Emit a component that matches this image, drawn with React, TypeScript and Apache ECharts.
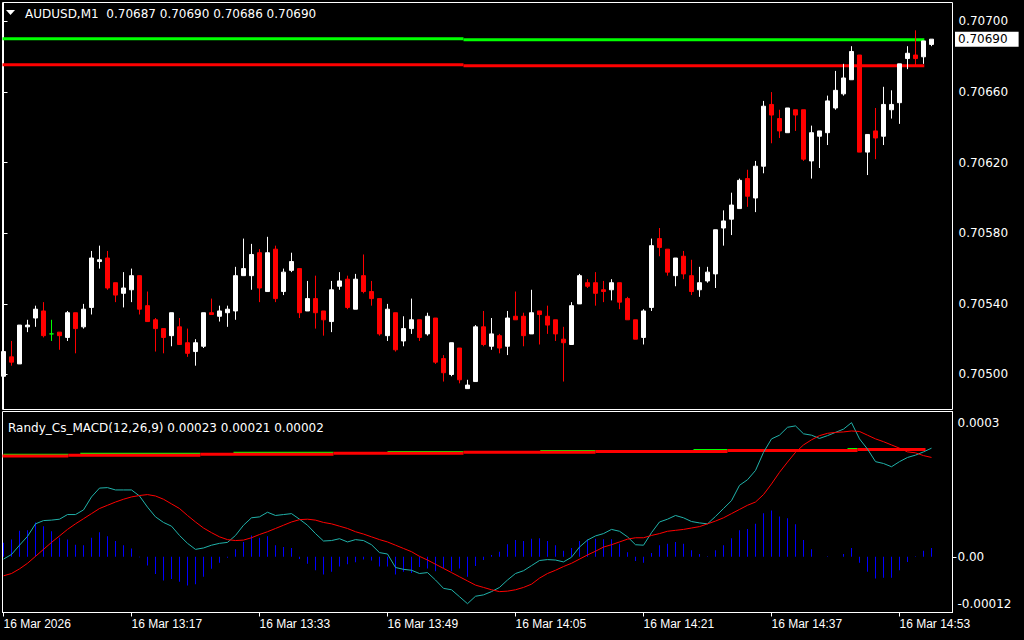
import { useEffect, useRef } from 'react';
import * as echarts from 'echarts';

const symbolName = 'AUDUSD';
const timeframe = 'M1';
const indicatorName = 'Randy_Cs_MACD(12,26,9)';

// One-minute candles, 16 Mar 2026 13:01 … 14:57
const opens = [
  0.70499,0.70510,0.70506,0.70527,0.70532,0.70536,0.70523,0.70524,0.70521,0.70535,
  0.70527,0.70538,0.70564,0.70566,0.70552,0.70546,0.70548,0.70556,0.70539,0.70531,
  0.70526,0.70522,0.70527,0.70518,0.70513,0.70516,0.70535,0.70533,0.70535,0.70536,
  0.70556,0.70556,0.70569,0.70547,0.70571,0.70547,0.70559,0.70560,0.70536,0.70543,
  0.70536,0.70530,0.70550,0.70554,0.70537,0.70556,0.70547,0.70543,0.70522,0.70535,
  0.70519,0.70526,0.70531,0.70523,0.70532,0.70509,0.70500,0.70515,0.70492,0.70496,
  0.70527,0.70516,0.70522,0.70516,0.70533,0.70533,0.70523,0.70536,0.70533,0.70531,
  0.70520,0.70517,0.70540,0.70552,0.70552,0.70548,0.70548,0.70552,0.70543,0.70531,
  0.70521,0.70538,0.70577,0.70571,0.70556,0.70567,0.70556,0.70548,0.70553,0.70557,
  0.70583,0.70588,0.70594,0.70611,0.70600,0.70618,0.70653,0.70645,0.70637,0.70650,
  0.70650,0.70621,0.70635,0.70637,0.70651,0.70659,0.70667,0.70681,0.70626,0.70638,
  0.70635,0.70650,0.70654,0.70679,0.70681,0.70680,0.70687,
];
const closes = [
  0.70513,0.70507,0.70528,0.70528,0.70537,0.70522,0.70523,0.70522,0.70535,0.70526,
  0.70537,0.70566,0.70565,0.70549,0.70545,0.70549,0.70556,0.70537,0.70530,0.70526,
  0.70521,0.70535,0.70517,0.70512,0.70518,0.70535,0.70534,0.70536,0.70537,0.70556,
  0.70560,0.70568,0.70549,0.70569,0.70543,0.70558,0.70564,0.70535,0.70543,0.70535,
  0.70531,0.70548,0.70553,0.70538,0.70554,0.70547,0.70543,0.70523,0.70537,0.70514,
  0.70526,0.70531,0.70521,0.70533,0.70507,0.70501,0.70518,0.70497,0.70494,0.70527,
  0.70517,0.70523,0.70515,0.70532,0.70531,0.70522,0.70535,0.70534,0.70528,0.70523,
  0.70518,0.70539,0.70556,0.70550,0.70546,0.70547,0.70552,0.70541,0.70531,0.70520,
  0.70536,0.70573,0.70572,0.70558,0.70566,0.70557,0.70547,0.70552,0.70558,0.70582,
  0.70587,0.70596,0.70610,0.70601,0.70618,0.70652,0.70647,0.70638,0.70651,0.70647,
  0.70622,0.70637,0.70638,0.70655,0.70661,0.70668,0.70683,0.70626,0.70636,0.70634,
  0.70653,0.70653,0.70676,0.70682,0.70679,0.70689,0.70690,
];
const highs = [
  0.70513,0.70519,0.70528,0.70531,0.70539,0.70541,0.70531,0.70524,0.70536,0.70535,
  0.70540,0.70570,0.70573,0.70570,0.70552,0.70558,0.70560,0.70556,0.70547,0.70532,
  0.70526,0.70535,0.70532,0.70526,0.70520,0.70535,0.70543,0.70539,0.70539,0.70561,
  0.70577,0.70574,0.70571,0.70578,0.70573,0.70560,0.70569,0.70560,0.70553,0.70556,
  0.70536,0.70553,0.70558,0.70556,0.70557,0.70568,0.70553,0.70543,0.70540,0.70535,
  0.70533,0.70543,0.70531,0.70535,0.70532,0.70511,0.70518,0.70515,0.70497,0.70528,
  0.70536,0.70532,0.70523,0.70536,0.70547,0.70535,0.70548,0.70536,0.70539,0.70531,
  0.70527,0.70541,0.70557,0.70554,0.70558,0.70553,0.70554,0.70552,0.70544,0.70531,
  0.70537,0.70577,0.70583,0.70571,0.70566,0.70570,0.70565,0.70561,0.70561,0.70582,
  0.70593,0.70603,0.70611,0.70616,0.70621,0.70655,0.70660,0.70650,0.70651,0.70650,
  0.70650,0.70641,0.70638,0.70658,0.70672,0.70676,0.70686,0.70681,0.70636,0.70651,
  0.70663,0.70661,0.70676,0.70686,0.70695,0.70689,0.70690,
];
const lows = [
  0.70494,0.70505,0.70506,0.70524,0.70527,0.70521,0.70519,0.70514,0.70519,0.70512,
  0.70526,0.70534,0.70560,0.70548,0.70541,0.70538,0.70541,0.70534,0.70530,0.70513,
  0.70512,0.70516,0.70517,0.70510,0.70505,0.70515,0.70534,0.70530,0.70527,0.70531,
  0.70556,0.70548,0.70541,0.70547,0.70541,0.70545,0.70558,0.70532,0.70536,0.70526,
  0.70522,0.70524,0.70548,0.70537,0.70537,0.70546,0.70539,0.70522,0.70519,0.70513,
  0.70516,0.70523,0.70519,0.70522,0.70506,0.70496,0.70499,0.70495,0.70492,0.70496,
  0.70516,0.70514,0.70512,0.70511,0.70531,0.70516,0.70523,0.70517,0.70523,0.70519,
  0.70496,0.70517,0.70540,0.70549,0.70539,0.70541,0.70542,0.70537,0.70531,0.70520,
  0.70517,0.70536,0.70567,0.70556,0.70550,0.70554,0.70545,0.70544,0.70552,0.70549,
  0.70573,0.70579,0.70594,0.70595,0.70592,0.70614,0.70631,0.70634,0.70637,0.70638,
  0.70621,0.70611,0.70617,0.70630,0.70650,0.70658,0.70667,0.70626,0.70613,0.70622,
  0.70630,0.70645,0.70642,0.70673,0.70675,0.70676,0.70686,
];

// MACD sub-window values
const macdMain = [
  -0.5e-5,0.5e-5,2.5e-5,4.4e-5,7.1e-5,7.8e-5,7.9e-5,8.1e-5,9.1e-5,9.1e-5,
  10.1e-5,12.9e-5,14.8e-5,14.9e-5,14.4e-5,14.4e-5,14.4e-5,13.1e-5,10.7e-5,8.6e-5,
  7.4e-5,6.6e-5,4.6e-5,2.9e-5,1.6e-5,1.9e-5,2.5e-5,2.9e-5,3.1e-5,4.6e-5,
  6.8e-5,8.4e-5,8.6e-5,9.6e-5,8.9e-5,9.1e-5,9.3e-5,8.1e-5,6.8e-5,5.0e-5,
  3.4e-5,3.5e-5,3.9e-5,3.2e-5,3.7e-5,3.5e-5,2.6e-5,0.9e-5,0.6e-5,-2.3e-5,
  -2.7e-5,-2.9e-5,-3.6e-5,-3.4e-5,-5.0e-5,-6.8e-5,-7.1e-5,-8.6e-5,-10.1e-5,-8.5e-5,
  -8.2e-5,-7.5e-5,-6.6e-5,-5.0e-5,-3.6e-5,-3.0e-5,-1.9e-5,-0.8e-5,-0.6e-5,-0.7e-5,
  -1.1e-5,-0.1e-5,2.1e-5,3.6e-5,4.5e-5,5.0e-5,5.9e-5,5.5e-5,4.3e-5,2.6e-5,
  2.5e-5,5.2e-5,7.5e-5,8.1e-5,8.9e-5,8.4e-5,7.6e-5,7.3e-5,7.1e-5,8.7e-5,
  10.4e-5,12.1e-5,15.4e-5,16.6e-5,18.6e-5,22.5e-5,25.4e-5,26.2e-5,27.9e-5,28.2e-5,
  26.5e-5,26.2e-5,25.5e-5,26.1e-5,26.8e-5,27.5e-5,28.9e-5,25.4e-5,23.2e-5,20.5e-5,
  20.1e-5,19.4e-5,20.5e-5,21.4e-5,21.9e-5,22.6e-5,23.4e-5,
];
const macdSignal = [
  -4.1e-5,-3.6e-5,-2.6e-5,-1.4e-5,0.1e-5,1.6e-5,3.1e-5,4.5e-5,5.9e-5,7.1e-5,
  8.2e-5,9.3e-5,10.4e-5,11.1e-5,11.8e-5,12.4e-5,12.9e-5,13.2e-5,13.4e-5,13.1e-5,
  12.4e-5,11.4e-5,10.4e-5,8.9e-5,7.5e-5,6.2e-5,5.2e-5,4.3e-5,3.7e-5,3.5e-5,
  3.6e-5,4.1e-5,4.8e-5,5.4e-5,6.1e-5,6.8e-5,7.5e-5,8.0e-5,8.1e-5,7.9e-5,
  7.4e-5,7.1e-5,6.6e-5,6.1e-5,5.4e-5,4.9e-5,4.3e-5,3.7e-5,3.2e-5,2.5e-5,
  1.8e-5,1.1e-5,0.1e-5,-0.7e-5,-1.6e-5,-2.5e-5,-3.4e-5,-4.3e-5,-5.2e-5,-6.1e-5,
  -6.6e-5,-7.1e-5,-7.5e-5,-7.4e-5,-7.1e-5,-6.6e-5,-5.9e-5,-4.6e-5,-3.6e-5,-2.9e-5,
  -2.1e-5,-1.4e-5,-0.5e-5,0.4e-5,1.2e-5,2.1e-5,2.6e-5,3.2e-5,3.8e-5,4.1e-5,
  4.1e-5,4.6e-5,5.0e-5,5.5e-5,5.7e-5,5.9e-5,6.2e-5,6.5e-5,7.1e-5,7.7e-5,
  8.4e-5,9.3e-5,10.2e-5,11.1e-5,11.8e-5,13.4e-5,15.7e-5,18.2e-5,20.4e-5,22.5e-5,
  24.1e-5,25.2e-5,26.1e-5,26.6e-5,26.8e-5,26.9e-5,27.1e-5,27.0e-5,26.2e-5,25.4e-5,
  24.8e-5,24.1e-5,23.4e-5,22.6e-5,22.4e-5,21.8e-5,21.4e-5,
];
const macdHist = [
  3.0e-5,3.7e-5,5.6e-5,5.7e-5,7.4e-5,6.6e-5,5.5e-5,4.1e-5,3.7e-5,2.6e-5,
  2.5e-5,4.1e-5,5.3e-5,4.4e-5,3.4e-5,2.5e-5,1.8e-5,-0.1e-5,-1.9e-5,-3.7e-5,
  -5.1e-5,-4.8e-5,-5.4e-5,-6.2e-5,-5.9e-5,-4.3e-5,-2.6e-5,-1.3e-5,-0.2e-5,1.6e-5,
  3.2e-5,4.6e-5,4.1e-5,4.4e-5,2.5e-5,2.1e-5,1.9e-5,-0.5e-5,-1.5e-5,-2.9e-5,
  -3.8e-5,-3.2e-5,-2.1e-5,-1.6e-5,-1.2e-5,-0.6e-5,-0.8e-5,-2.1e-5,-2.1e-5,-3.8e-5,
  -3.2e-5,-3.5e-5,-2.2e-5,-2.5e-5,-3.1e-5,-2.4e-5,-3.1e-5,-2.5e-5,-4.3e-5,-2.0e-5,
  -0.7e-5,0.4e-5,1.1e-5,2.7e-5,3.6e-5,3.4e-5,3.9e-5,4.0e-5,3.4e-5,2.5e-5,
  1.3e-5,1.9e-5,3.4e-5,3.7e-5,3.9e-5,3.8e-5,3.8e-5,2.8e-5,1.0e-5,-0.9e-5,
  -1.3e-5,0.8e-5,2.5e-5,2.8e-5,3.2e-5,2.8e-5,1.4e-5,0.6e-5,0.1e-5,1.4e-5,
  2.5e-5,4.0e-5,5.7e-5,6.0e-5,7.1e-5,9.4e-5,10.0e-5,8.7e-5,8.3e-5,7.0e-5,
  3.6e-5,1.6e-5,0,0.1e-5,0,0.6e-5,1.9e-5,-1.3e-5,-3.2e-5,-4.7e-5,
  -4.5e-5,-4.5e-5,-2.9e-5,-1.1e-5,0.1e-5,1.3e-5,1.9e-5,
];

// Level lines: [fromCandle, toCandle, value]
const priceLevelUpper = [[-0.125, 57.5, 0.706902], [57.5, 115.1, 0.706896]];
const priceLevelLower = [[-0.125, 57.5, 0.706755], [57.5, 115.1, 0.706749]];
const macdLevelGreen = [
  [0, 8.1, 22.05e-5], [9.6, 24.6, 22.25e-5], [28.75, 41.25, 22.45e-5], [48, 57.5, 22.65e-5],
  [67.1, 74, 22.85e-5], [86.25, 90.5, 23.05e-5], [105.5, 106.75, 23.25e-5],
];
const macdLevelRed = [
  [-0.125, 8.1, 21.7e-5], [8.1, 24.6, 21.9e-5], [24.6, 41.25, 22.1e-5], [41.25, 57.5, 22.3e-5],
  [57.5, 74, 22.5e-5], [74, 90.5, 22.7e-5], [90.5, 106.75, 22.9e-5], [106.75, 115.25, 23.1e-5],
];

const timeTickIndex = [0, 16, 32, 48, 64, 80, 96, 112];
const timeTickLabels = ['16 Mar 2026', '16 Mar 13:17', '16 Mar 13:33', '16 Mar 13:49', '16 Mar 14:05', '16 Mar 14:21', '16 Mar 14:37', '16 Mar 14:53'];
const priceTicks = [0.705, 0.7054, 0.7058, 0.7062, 0.7066, 0.707];
const macdTickValues = [-12e-5, 0, 31.3e-5];
const macdTickLabels = ['-0.00012', '0.00', '0.0003'];

const FONT = 'DejaVu Sans';

export default function App() {
  const ref = useRef<HTMLDivElement>(null);
  useEffect(() => {
    if (!ref.current) return;
    const chart = echarts.init(ref.current, null, { renderer: 'svg' });
    const last = opens.length - 1;
    const candleData = opens.map((o, i) => {
      const item: any = { value: [i, o, closes[i], lows[i], highs[i]] };
      if (o === closes[i]) item.itemStyle = { color: '#00ff00', borderColor: '#00ff00' };
      return item;
    });
    const seg = (segs: number[][], color: string, width: number, ai: number, z: number) =>
      segs.map(([a, b, v]) => ({
        type: 'line', xAxisIndex: ai, yAxisIndex: ai, data: [[a, v], [b, v]],
        symbol: 'none', showSymbol: false, silent: true, z,
        lineStyle: { color, width, cap: 'butt' },
      }));
    const header = `${symbolName},${timeframe}  ${opens[last].toFixed(5)} ${highs[last].toFixed(5)} ${lows[last].toFixed(5)} ${closes[last].toFixed(5)}`;
    const macdHeader = `${indicatorName} ${macdMain[last].toFixed(5)} ${macdSignal[last].toFixed(5)} ${macdHist[last].toFixed(5)}`;
    const xRange = { min: -0.125, max: 118.625 };
    const axisText = { color: '#ffffff', fontSize: 12, fontFamily: FONT };
    const baseGraphic = [
      { id: 'tri', type: 'polygon', shape: { points: [[6, 10], [15, 10], [10.5, 15]] }, style: { fill: '#ffffff' }, z: 10 },
      { id: 'hdr', type: 'text', x: 25, y: 14, style: { text: header, fill: '#ffffff', fontSize: 12, fontFamily: FONT, verticalAlign: 'middle' }, z: 10 },
      { id: 'mhdr', type: 'text', x: 8, y: 428, style: { text: macdHeader, fill: '#ffffff', fontSize: 12, fontFamily: FONT, verticalAlign: 'middle' }, z: 10 },
    ];
    chart.setOption({
      animation: false,
      backgroundColor: '#000000',
      textStyle: { fontFamily: FONT },
      grid: [
        { left: 2.5, top: 2.5, right: 71.5, height: 407, show: true, borderColor: '#ffffff', borderWidth: 1, backgroundColor: '#000000', outerBoundsMode: 'none' },
        { left: 2.5, top: 411.5, right: 71.5, height: 201, show: true, borderColor: '#ffffff', borderWidth: 1, backgroundColor: '#000000', outerBoundsMode: 'none' },
      ],
      xAxis: [
        { gridIndex: 0, type: 'value', ...xRange, show: false },
        {
          gridIndex: 1, type: 'value', ...xRange,
          axisLine: { show: true, onZero: false, lineStyle: { color: '#ffffff' } },
          axisTick: { show: true, customValues: timeTickIndex, length: 4, lineStyle: { color: '#ffffff' } },
          axisLabel: {
            customValues: timeTickIndex, align: 'left', margin: 5, ...axisText, fontFamily: 'Liberation Sans',
            formatter: (v: number) => timeTickLabels[timeTickIndex.indexOf(Math.round(v))] ?? '',
          },
          splitLine: { show: false },
        },
      ],
      yAxis: [
        {
          gridIndex: 0, type: 'value', position: 'right', min: 0.7048017, max: 0.7071076, scale: true,
          axisLine: { show: true, lineStyle: { color: '#ffffff' } },
          axisTick: { show: true, customValues: priceTicks, length: 4, lineStyle: { color: '#ffffff' } },
          axisLabel: { customValues: priceTicks, margin: 6, ...axisText, formatter: (v: number) => v.toFixed(5) },
          splitLine: { show: false },
        },
        {
          gridIndex: 1, type: 'value', position: 'right', min: -12e-5, max: 31.3e-5,
          axisLine: { show: true, onZero: false, lineStyle: { color: '#ffffff' } },
          axisTick: { show: true, customValues: [0], length: 4, lineStyle: { color: '#ffffff' } },
          axisLabel: {
            customValues: macdTickValues, margin: 5, ...axisText,
            verticalAlignMinLabel: 'bottom', verticalAlignMaxLabel: 'top',
            formatter: (v: number) => {
              let best = 0;
              macdTickValues.forEach((t, k) => { if (Math.abs(t - v) < Math.abs(macdTickValues[best] - v)) best = k; });
              const txt = macdTickLabels[best];
              if (best === 0) return `{lo|${txt}}`;
              if (best === macdTickLabels.length - 1) return `{hi|${txt}}`;
              return txt;
            },
            rich: {
              lo: { fontSize: 12, fontFamily: FONT, color: '#ffffff', padding: [0, 0, 3, 0] },
              hi: { fontSize: 12, fontFamily: FONT, color: '#ffffff', padding: [5, 0, 0, 0] },
            },
          },
          splitLine: { show: false },
        },
      ],
      series: [
        ...seg(priceLevelUpper, '#00ff00', 3, 0, 1),
        ...seg(priceLevelLower, '#ff0000', 3, 0, 1),
        {
          type: 'candlestick', xAxisIndex: 0, yAxisIndex: 0, z: 3,
          encode: { x: 0, y: [1, 2, 3, 4] },
          data: candleData, barWidth: 4,
          itemStyle: { color: '#ffffff', color0: '#ff0000', borderColor: '#ffffff', borderColor0: '#ff0000', borderColorDoji: '#00ff00', borderWidth: 1 },
        },
        {
          type: 'bar', xAxisIndex: 1, yAxisIndex: 1, barWidth: 1, z: 2,
          data: macdHist.map((v, i) => [i, v]),
          itemStyle: { color: '#0000ff' },
        },
        ...seg(macdLevelGreen, '#00ff00', 1.5, 1, 3),
        ...seg(macdLevelRed, '#ff0000', 3, 1, 4),
        {
          type: 'line', xAxisIndex: 1, yAxisIndex: 1, z: 5, symbol: 'none', showSymbol: false,
          data: macdMain.map((v, i) => [i, v]), lineStyle: { color: '#20b2aa', width: 1 },
        },
        {
          type: 'line', xAxisIndex: 1, yAxisIndex: 1, z: 5, symbol: 'none', showSymbol: false,
          data: macdSignal.map((v, i) => [i, v]), lineStyle: { color: '#ff0000', width: 1 },
        },
      ],
      graphic: baseGraphic,
    });
    // current-price box on the price scale, positioned through the y axis
    const py = chart.convertToPixel({ yAxisIndex: 0 }, closes[last]) as number;
    chart.setOption({
      graphic: [
        ...baseGraphic,
        {
          id: 'pricebox', type: 'text', x: 955, y: py, z: 20,
          style: {
            text: closes[last].toFixed(5), fill: '#000000', backgroundColor: '#ffffff',
            fontSize: 12, fontFamily: FONT, verticalAlign: 'middle', padding: [2, 11, 1, 3],
          },
        },
      ],
    });
    return () => chart.dispose();
  }, []);
  return <div ref={ref} style={{ position: 'absolute', left: 0, top: 0, width: 1024, height: 640, background: '#000' }} />;
}
